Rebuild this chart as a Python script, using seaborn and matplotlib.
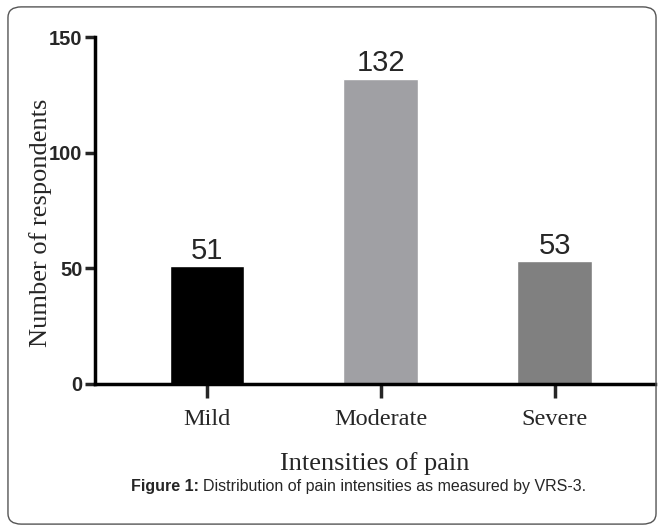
import pandas as pd
import matplotlib.pyplot as plt
import seaborn as sns
from matplotlib.patches import FancyBboxPatch

# Data
categories = ["Mild", "Moderate", "Severe"]
respondents = [51, 132, 53]
bar_colors = ["#000000", "#a0a0a4", "#808080"]

sns.set_style("white")
plt.rcParams.update({
    'font.family': ['Liberation Serif', 'DejaVu Serif'],
    'axes.linewidth': 2.5,
})
sans = ['Liberation Sans', 'DejaVu Sans']

df = pd.DataFrame({"category": categories, "count": respondents})

fig = plt.figure(figsize=(6.64, 5.31), dpi=100)
ax = fig.add_axes([0.143, 0.277, 0.843, 0.653])

sns.barplot(data=df, x="category", y="count", hue="category",
            palette=bar_colors, width=0.43, legend=False, ax=ax)

for container in ax.containers:
    ax.bar_label(container, padding=1, fontsize=21, family=sans)

ax.set_xlim(-0.644, 2.575)
ax.set_ylim(0, 150)
ax.set_yticks([0, 50, 100, 150])
sns.despine(ax=ax)
ax.spines['left'].set_color('black')
ax.spines['bottom'].set_color('black')

ax.tick_params(axis='y', direction='out', length=7, width=2.5, pad=2,
               left=True, labelsize=14.5)
ax.tick_params(axis='x', direction='out', length=10, width=2.5, pad=8,
               bottom=True, labelsize=17.5)
for lbl in ax.get_yticklabels():
    lbl.set_fontfamily(sans)
    lbl.set_fontweight('bold')

ax.set_xlabel("Intensities of pain", fontsize=19, labelpad=16)
ax.set_ylabel("Number of respondents", fontsize=19)
ax.yaxis.set_label_coords(-0.077, 0.464)

# Caption: bold prefix plus regular text
cap_y = 1 - 486 / 531
fig.text(199 / 664, cap_y, "Figure 1:", ha='right', va='center',
         fontsize=11.5, fontweight='bold', family=sans)
fig.text(203 / 664, cap_y, "Distribution of pain intensities as measured by VRS-3.",
         ha='left', va='center', fontsize=11.5, family=sans)

border = FancyBboxPatch((0.012, 0.013), 0.976, 0.974,
                        boxstyle="round,pad=0,rounding_size=0.02",
                        transform=fig.transFigure, fill=False,
                        edgecolor='#555555', linewidth=1.0)
fig.patches.append(border)

fig.savefig("out.png", dpi=100)
